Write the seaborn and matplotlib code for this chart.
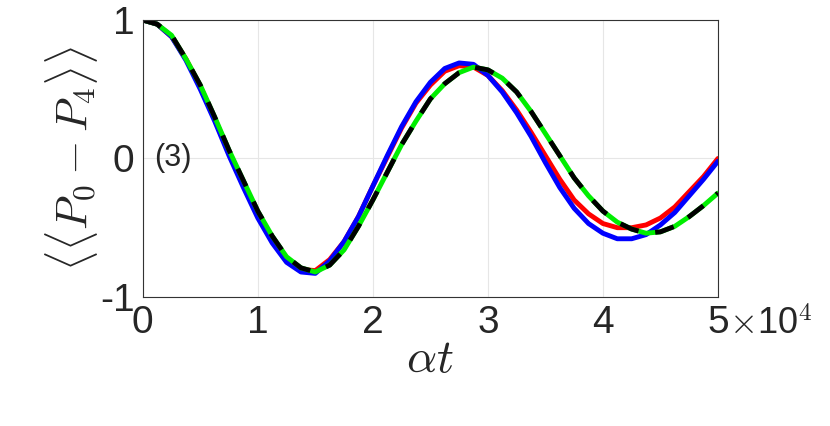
import numpy as np
import pandas as pd
import matplotlib
matplotlib.use('Agg')
import matplotlib.pyplot as plt
import seaborn as sns

# x in units of 1e4, read every 0.125
x = [0, 0.125, 0.25, 0.375, 0.5, 0.625, 0.75, 0.875, 1.0, 1.125, 1.25, 1.375,
     1.5, 1.625, 1.75, 1.875, 2.0, 2.125, 2.25, 2.375, 2.5, 2.625, 2.75, 2.875,
     3.0, 3.125, 3.25, 3.375, 3.5, 3.625, 3.75, 3.875, 4.0, 4.125, 4.25, 4.375,
     4.5, 4.625, 4.75, 4.875, 5.0]
red = [1.0, 0.97, 0.88, 0.72, 0.52, 0.29, 0.05, -0.19, -0.4, -0.59, -0.73, -0.80,
       -0.81, -0.73, -0.6, -0.42, -0.2, 0.01, 0.22, 0.40, 0.53, 0.63, 0.67, 0.66,
       0.6, 0.49, 0.35, 0.19, 0.02, -0.15, -0.3, -0.40, -0.47, -0.50, -0.5, -0.48,
       -0.43, -0.35, -0.24, -0.13, 0.0]
blue = [1.0, 0.97, 0.88, 0.71, 0.5, 0.27, 0.02, -0.21, -0.43, -0.61, -0.75, -0.82,
        -0.83, -0.74, -0.6, -0.42, -0.2, 0.02, 0.23, 0.41, 0.55, 0.65, 0.69, 0.68,
        0.6, 0.48, 0.33, 0.16, -0.03, -0.21, -0.36, -0.47, -0.54, -0.58, -0.58, -0.55,
        -0.48, -0.39, -0.27, -0.15, -0.02]
green = [1.0, 0.97, 0.89, 0.72, 0.53, 0.30, 0.06, -0.16, -0.38, -0.56, -0.71, -0.79,
         -0.82, -0.77, -0.66, -0.49, -0.3, -0.10, 0.1, 0.27, 0.43, 0.54, 0.62, 0.66,
         0.64, 0.58, 0.48, 0.34, 0.18, 0.02, -0.14, -0.27, -0.38, -0.46, -0.51, -0.54,
         -0.53, -0.49, -0.42, -0.34, -0.25]
black = list(green)

sns.set_style('white')
plt.rcParams['font.family'] = 'Liberation Sans'
plt.rcParams['mathtext.fontset'] = 'cm'
fig, ax = plt.subplots(figsize=(8.3, 4.26), dpi=100)
fig.subplots_adjust(left=0.172, right=0.865, top=0.953, bottom=0.303)

sns.lineplot(x=x, y=red, color='red', lw=3.5, ax=ax)
sns.lineplot(x=x, y=blue, color='blue', lw=3.5, ax=ax)
sns.lineplot(x=x, y=green, color='#00ee00', lw=3.5, ax=ax)
ax.plot(x, black, color='black', lw=3.5, dashes=(4, 3.5))

ax.set_xlim(0, 5)
ax.set_ylim(-1, 1)
ax.set_xticks([0, 1, 2, 3, 4, 5])
ax.set_yticks([-1, 0, 1])
ax.set_yticklabels(['-1', '0', '1'])
ax.tick_params(labelsize=28, length=4, direction='in', pad=6)
ax.grid(True, color='#e6e6e6', lw=0.8)
for s in ax.spines.values():
    s.set_color('#333333')
    s.set_linewidth(0.8)
ax.text(5.1, -1.08, r'$\times$10$^4$', fontsize=26, va='top', ha='left', clip_on=False)
ax.text(0.1, 0.0, '(3)', fontsize=22, va='center')
ax.set_xlabel(r'$\alpha t$', fontsize=34, labelpad=-2)
ax.set_ylabel(r'$\langle\langle P_0 - P_4\rangle\rangle$', fontsize=32, labelpad=0)

fig.savefig('out.png', dpi=100)
